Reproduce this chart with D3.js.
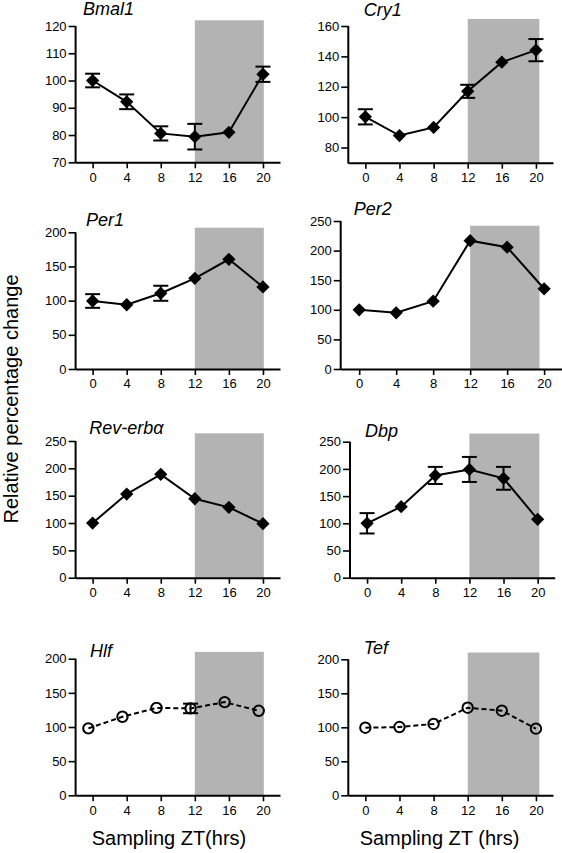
<!DOCTYPE html>
<html>
<head>
<meta charset="utf-8">
<script src="https://cdn.jsdelivr.net/npm/d3@7"></script>
<style>
  html, body { margin: 0; padding: 0; background: #fff; }
  svg { display: block; }
  text { font-family: Arial, "Liberation Sans", Helvetica, sans-serif; fill: #000; }
</style>
</head>
<body>
<svg id="chart" width="562" height="853"></svg>
<script>
// ---------- DATA ----------
const timepoints = [0, 4, 8, 12, 16, 20];
const hlfTimepoints = [-0.5, 3.5, 7.5, 11.5, 15.5, 19.5];
const xTicks = [0, 4, 8, 12, 16, 20];

const geneNames = ["Bmal1", "Cry1", "Per1", "Per2", "Rev-erbα", "Dbp", "Hlf", "Tef"];

const bmal1Mean = [100, 92.2, 80.6, 79.4, 81, 102.3];
const bmal1Sem  = [2.5, 2.7, 2.6, 4.7, 0, 2.8];
const cry1Mean  = [100.2, 87.9, 93.2, 117, 136.2, 144.1];
const cry1Sem   = [5, 0, 0, 4.3, 0, 7.3];
const per1Mean  = [99.5, 94, 110.8, 132.7, 160.5, 120];
const per1Sem   = [10, 0, 11, 0, 0, 0];
const per2Mean  = [100, 95, 114.5, 216.7, 205.8, 135.5];
const per2Sem   = [0, 0, 0, 0, 0, 0];
const revMean   = [100, 153, 189, 144.4, 128.7, 98.7];
const revSem    = [0, 0, 0, 0, 0, 0];
const dbpMean   = [100, 130.5, 188, 199, 182.7, 107.4];
const dbpSem    = [18.7, 0, 15.7, 23, 21, 0];
const hlfMean   = [98, 115, 128, 127.2, 136.4, 123.7];
const hlfSem    = [0, 0, 0, 7, 0, 0];
const tefMean   = [99.4, 100.4, 104.9, 128.8, 124.4, 98];
const tefSem    = [0, 0, 0, 0, 0, 0];

const yDomains = [[70, 120], [70, 160], [0, 200], [0, 250], [0, 250], [0, 250], [0, 200], [0, 200]];
const yTickValues = [
  [70, 80, 90, 100, 110, 120],
  [80, 100, 120, 140, 160],
  [0, 50, 100, 150, 200],
  [0, 50, 100, 150, 200, 250],
  [0, 50, 100, 150, 200, 250],
  [0, 50, 100, 150, 200, 250],
  [0, 50, 100, 150, 200],
  [0, 50, 100, 150, 200]
];
const darkStart = 12;
const darkEnd = [20.1, 20.4, 20.1, 19.5, 20.1, 20.2, 20.1, 20.4];
const darkTop = [122.1, 164.6, 206.7, 242, 264, 265, 210, 210];

const yAxisLabel = "Relative percentage change";
const xAxisLabels = ["Sampling ZT(hrs)", "Sampling ZT (hrs)"];

// ---------- LAYOUT (pixel positions only) ----------
const layout = [
  { xr: [75.6, 280],   yr: [162.3, 26],   tx: 83,    ty: 15 },
  { xr: [348.3, 553],  yr: [162.7, 26],   tx: 363.7, ty: 16 },
  { xr: [75.6, 280],   yr: [369, 232.3],  tx: 86,    ty: 225.7 },
  { xr: [340.7, 562.6],yr: [369, 221],    tx: 353.7, ty: 215 },
  { xr: [75.6, 280],   yr: [577.7, 441],  tx: 89.3,  ty: 434.3 },
  { xr: [350, 554.7],  yr: [577.7, 441.7],tx: 365,   ty: 436.7 },
  { xr: [75.6, 280],   yr: [795.3, 658.7],tx: 90,    ty: 656.7 },
  { xr: [348.3, 553],  yr: [795.3, 659.3],tx: 363.7, ty: 654 }
];

const series = [
  { t: timepoints, m: bmal1Mean, s: bmal1Sem, open: false },
  { t: timepoints, m: cry1Mean,  s: cry1Sem,  open: false },
  { t: timepoints, m: per1Mean,  s: per1Sem,  open: false },
  { t: timepoints, m: per2Mean,  s: per2Sem,  open: false },
  { t: timepoints, m: revMean,   s: revSem,   open: false },
  { t: timepoints, m: dbpMean,   s: dbpSem,   open: false },
  { t: hlfTimepoints, m: hlfMean, s: hlfSem,  open: true },
  { t: timepoints, m: tefMean,   s: tefSem,   open: true }
];

const svg = d3.select("#chart");
const FONT = 'Arial, "Liberation Sans", Helvetica, sans-serif';

geneNames.forEach((name, i) => {
  const L = layout[i];
  const S = series[i];
  const x = d3.scaleLinear().domain([-2, 22]).range(L.xr);
  const y = d3.scaleLinear().domain(yDomains[i]).range(L.yr);
  const g = svg.append("g");

  // dark phase shading
  g.append("rect")
    .attr("x", x(darkStart))
    .attr("y", y(darkTop[i]))
    .attr("width", x(darkEnd[i]) - x(darkStart))
    .attr("height", y(yDomains[i][0]) - y(darkTop[i]))
    .attr("fill", "#b3b3b3");

  // axes
  const xAxis = d3.axisBottom(x).tickValues(xTicks).tickSize(6).tickSizeOuter(0).tickPadding(4);
  const yAxis = d3.axisLeft(y).tickValues(yTickValues[i]).tickSize(7).tickSizeOuter(0).tickPadding(2);
  const gx = g.append("g").attr("transform", `translate(0,${L.yr[0]})`).call(xAxis);
  const gy = g.append("g").attr("transform", `translate(${L.xr[0]},0)`).call(yAxis);
  [gx, gy].forEach(a => {
    a.selectAll("path.domain").attr("stroke", "#000").attr("stroke-width", 2);
    a.selectAll(".tick line").attr("stroke", "#000").attr("stroke-width", 1.6);
    a.selectAll(".tick text").attr("font-size", 13).attr("font-family", FONT).attr("fill", "#000");
  });
  gy.select("path.domain").attr("d", `M0,${L.yr[0] + 1}V${L.yr[1]}`);

  const pts = S.t.map((t, k) => ({ t, m: S.m[k], s: S.s[k] }));

  // connecting line
  g.append("path")
    .datum(pts)
    .attr("fill", "none")
    .attr("stroke", "#000")
    .attr("stroke-width", 2)
    .attr("stroke-dasharray", S.open ? "5,3" : null)
    .attr("d", d3.line().x(d => x(d.t)).y(d => y(d.m)));

  // error bars
  const eb = g.selectAll("g.err").data(pts.filter(d => d.s > 0)).enter().append("g");
  eb.append("line")
    .attr("x1", d => x(d.t)).attr("x2", d => x(d.t))
    .attr("y1", d => y(d.m - d.s)).attr("y2", d => y(d.m + d.s))
    .attr("stroke", "#000").attr("stroke-width", 2);
  [1, -1].forEach(sg => {
    eb.append("line")
      .attr("x1", d => x(d.t) - 7.5).attr("x2", d => x(d.t) + 7.5)
      .attr("y1", d => y(d.m + sg * d.s)).attr("y2", d => y(d.m + sg * d.s))
      .attr("stroke", "#000").attr("stroke-width", 2);
  });

  // markers
  if (S.open) {
    g.selectAll("circle.pt").data(pts).enter().append("circle")
      .attr("cx", d => x(d.t)).attr("cy", d => y(d.m)).attr("r", 5.2)
      .attr("fill", "#fff").attr("fill-opacity", 0).attr("stroke", "#000").attr("stroke-width", 2);
  } else {
    const sym = d3.symbol().type(d3.symbolSquare).size(88);
    g.selectAll("path.pt").data(pts).enter().append("path")
      .attr("d", sym)
      .attr("transform", d => `translate(${x(d.t)},${y(d.m)}) rotate(45)`)
      .attr("fill", "#000");
  }

  // title
  svg.append("text")
    .attr("x", L.tx).attr("y", L.ty)
    .attr("font-size", 18).attr("font-style", "italic")
    .attr("font-family", FONT)
    .text(name);
});

// axis titles
svg.append("text")
  .attr("transform", "translate(18,399) rotate(-90)")
  .attr("text-anchor", "middle")
  .attr("font-size", 20).attr("font-family", FONT)
  .text(yAxisLabel);

svg.append("text")
  .attr("x", 169).attr("y", 845)
  .attr("text-anchor", "middle")
  .attr("font-size", 20).attr("font-family", FONT)
  .text(xAxisLabels[0]);

svg.append("text")
  .attr("x", 439.5).attr("y", 845)
  .attr("text-anchor", "middle")
  .attr("font-size", 20).attr("font-family", FONT)
  .text(xAxisLabels[1]);
</script>
</body>
</html>
